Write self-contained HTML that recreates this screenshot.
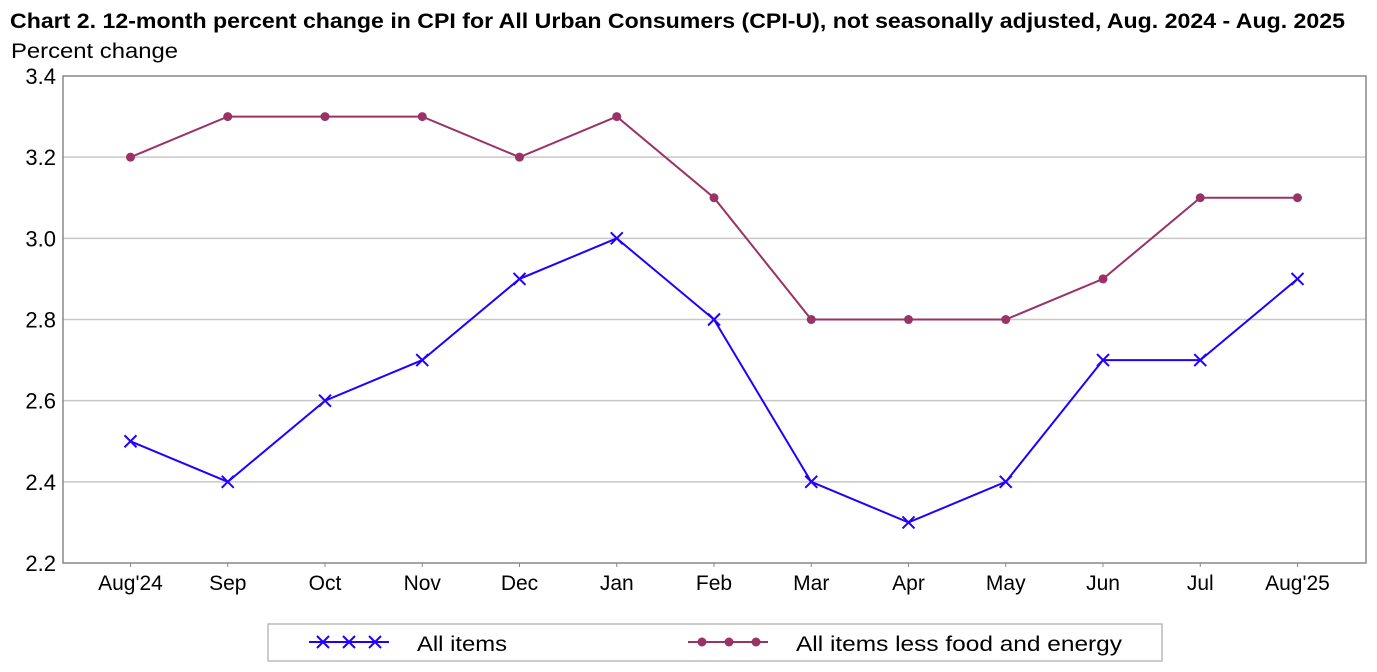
<!DOCTYPE html>
<html><head><meta charset="utf-8"><style>
body{margin:0;background:#fff;}
svg{display:block;font-family:"Liberation Sans",sans-serif;}
</style></head><body>
<svg id="s" width="1377" height="672" xmlns="http://www.w3.org/2000/svg">
<text x="10" y="28" font-size="21" font-weight="bold" fill="#000" textLength="1335" lengthAdjust="spacingAndGlyphs">Chart 2. 12-month percent change in CPI for All Urban Consumers (CPI-U), not seasonally adjusted, Aug. 2024 - Aug. 2025</text>
<text x="11" y="58" font-size="21" fill="#000" textLength="167" lengthAdjust="spacingAndGlyphs">Percent change</text>
<g id="g"></g>
<rect x="268" y="624" width="894" height="37" fill="none" stroke="#bbb" stroke-width="1.5"/>
<line x1="309" y1="642" x2="389" y2="642" stroke="#2200ff" stroke-width="2"/>
<g stroke="#2200ff" stroke-width="2">
<path d="M317,636l12,12M329,636l-12,12M343,636l12,12M355,636l-12,12M369,636l12,12M381,636l-12,12"/>
</g>
<text x="417" y="651" font-size="21" textLength="90" lengthAdjust="spacingAndGlyphs">All items</text>
<line x1="688" y1="642" x2="768" y2="642" stroke="#993366" stroke-width="2"/>
<circle cx="702" cy="642" r="4.5" fill="#993366"/><circle cx="729" cy="642" r="4.5" fill="#993366"/><circle cx="756" cy="642" r="4.5" fill="#993366"/>
<text x="796" y="651" font-size="21" textLength="326" lengthAdjust="spacingAndGlyphs">All items less food and energy</text>
</svg>
<script>
var g=document.getElementById('g'),h='';
function Y(v){return 76+(3.4-v)/0.2*81.17;}
for(var i=0;i<=6;i++){var v=2.2+i*0.2,y=Y(v);
 if(i>0&&i<6)h+='<line x1="63" y1="'+y+'" x2="1366" y2="'+y+'" stroke="#c8c8c8" stroke-width="1.5"/>';
 h+='<text x="56" y="'+(y+8)+'" font-size="22" text-anchor="end">'+v.toFixed(1)+'</text>';}
h+='<rect x="63" y="76" width="1303" height="487" fill="none" stroke="#888" stroke-width="1.5"/>';
var L=["Aug'24","Sep","Oct","Nov","Dec","Jan","Feb","Mar","Apr","May","Jun","Jul","Aug'25"];
var A=[2.5,2.4,2.6,2.7,2.9,3.0,2.8,2.4,2.3,2.4,2.7,2.7,2.9];
var C=[3.2,3.3,3.3,3.3,3.2,3.3,3.1,2.8,2.8,2.8,2.9,3.1,3.1];
function X(i){return 130.5+i*97.25;}
for(var i=0;i<13;i++){h+='<line x1="'+X(i)+'" y1="563" x2="'+X(i)+'" y2="567" stroke="#888"/>';
 h+='<text x="'+X(i)+'" y="590" font-size="21" text-anchor="middle">'+L[i]+'</text>';}
var pa=A.map(function(v,i){return X(i)+','+Y(v)}).join(' ');
var pc=C.map(function(v,i){return X(i)+','+Y(v)}).join(' ');
h+='<polyline points="'+pc+'" fill="none" stroke="#993366" stroke-width="2"/>';
h+='<polyline points="'+pa+'" fill="none" stroke="#2200ff" stroke-width="2"/>';
for(var i=0;i<13;i++){h+='<circle cx="'+X(i)+'" cy="'+Y(C[i])+'" r="4.5" fill="#993366"/>';
 var x=X(i),y=Y(A[i]);h+='<path d="M'+(x-6)+','+(y-6)+'l12,12M'+(x+6)+','+(y-6)+'l-12,12" stroke="#2200ff" stroke-width="2"/>';}
g.innerHTML=h;
</script>
</body></html>
